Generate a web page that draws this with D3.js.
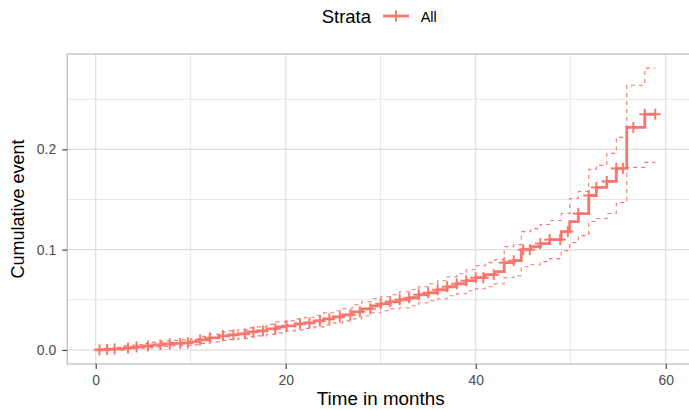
<!DOCTYPE html>
<html><head><meta charset="utf-8">
<script src="https://cdn.jsdelivr.net/npm/d3@7/dist/d3.min.js"></script>
<style>body{margin:0;background:#fff}svg{display:block}</style>
</head><body>
<svg id="c" width="689" height="410"></svg>
<script>
// ---- data ----
const times = [0,1,2,3,4,5,6,7,8,9,10,11,12,13,14,15,16,17,18,19,20,21,22,23,24,25,26,27,28,29,30,31,32,33,34,35,36,37,38,39,40,41,42,43,44,44.8,45.8,46.8,47.8,49.0,49.9,50.8,51.9,52.7,53.8,54.8,55.9,57.8];
const est = [0,0.0005,0.001,0.002,0.003,0.004,0.005,0.006,0.0065,0.007,0.008,0.010,0.012,0.014,0.015,0.016,0.018,0.019,0.021,0.023,0.024,0.026,0.027,0.029,0.031,0.033,0.035,0.038,0.041,0.044,0.046,0.048,0.050,0.052,0.055,0.057,0.060,0.063,0.066,0.069,0.072,0.075,0.078,0.087,0.089,0.100,0.103,0.106,0.110,0.118,0.128,0.136,0.154,0.162,0.168,0.181,0.222,0.235];
const upper = [0,0.0015,0.0025,0.004,0.005,0.0065,0.0075,0.009,0.0095,0.010,0.011,0.0135,0.0155,0.018,0.019,0.020,0.022,0.023,0.0255,0.028,0.029,0.031,0.0325,0.0345,0.037,0.039,0.041,0.045,0.048,0.051,0.053,0.055,0.058,0.060,0.063,0.066,0.069,0.073,0.076,0.080,0.084,0.087,0.090,0.103,0.105,0.118,0.121,0.125,0.129,0.136,0.151,0.158,0.180,0.184,0.196,0.212,0.264,0.281];
const lower = [0,0,0,0.001,0.0015,0.002,0.003,0.0035,0.004,0.0045,0.005,0.0065,0.008,0.0095,0.0105,0.0115,0.013,0.014,0.0155,0.017,0.019,0.020,0.0215,0.023,0.025,0.027,0.029,0.031,0.034,0.037,0.039,0.041,0.042,0.044,0.047,0.049,0.051,0.054,0.056,0.059,0.061,0.063,0.066,0.072,0.074,0.083,0.085,0.088,0.091,0.099,0.107,0.114,0.128,0.131,0.136,0.147,0.182,0.187];
const endTime = 58.9;
const censorTimes = [0.4,1.2,2.0,3.4,4.3,5.5,6.8,7.8,8.9,9.7,11,12,13.4,14.5,15.7,16.6,17.6,18.9,20.1,21.5,22.5,23.6,24.6,25.7,26.8,27.8,28.9,30,31,32,33,34,35,36,37,38,39,40,40.8,41.9,43.0,44.0,45.0,45.7,46.8,47.8,48.9,49.7,50.8,51.9,52.7,53.8,54.8,55.5,56.6,57.8,58.9];
const xTicks = [0,20,40,60];
const xMinor = [10,30,50];
const yTicks = [0,0.1,0.2];
const yMinor = [0.05,0.15,0.25];
const strataName = "All";

// ---- layout ----
const col = "#F8766D";
const font = "'Liberation Sans', Arial, sans-serif";
const L = 67.2, R = 694.2, T = 54, B = 364;
const svg = d3.select("#c");
const x = d3.scaleLinear().domain([-3, 63]).range([L, R]);
const y = d3.scaleLinear().domain([-0.01405, 0.2951]).range([B, T]);

// grid
const g = svg.append("g");
g.selectAll(".vmin").data(xMinor).join("line").attr("x1", d => x(d)).attr("x2", d => x(d)).attr("y1", T).attr("y2", B).attr("stroke", "#E6E6E6").attr("stroke-width", 1);
g.selectAll(".hmin").data(yMinor).join("line").attr("y1", d => y(d)).attr("y2", d => y(d)).attr("x1", L).attr("x2", R).attr("stroke", "#E6E6E6").attr("stroke-width", 1);
g.selectAll(".vmaj").data(xTicks).join("line").attr("x1", d => x(d)).attr("x2", d => x(d)).attr("y1", T).attr("y2", B).attr("stroke", "#DEDEDE").attr("stroke-width", 1.2);
g.selectAll(".hmaj").data(yTicks).join("line").attr("y1", d => y(d)).attr("y2", d => y(d)).attr("x1", L).attr("x2", R).attr("stroke", "#DEDEDE").attr("stroke-width", 1.2);

// data series
const pts = (arr) => { const p = times.map((t, i) => [t, arr[i]]); p.push([endTime, arr[arr.length - 1]]); return p; };
const line = d3.line().x(d => x(d[0])).y(d => y(d[1])).curve(d3.curveStepAfter);
svg.append("path").attr("d", line(pts(upper))).attr("fill", "none").attr("stroke", col).attr("stroke-width", 1.1).attr("stroke-dasharray", "4,4");
svg.append("path").attr("d", line(pts(lower))).attr("fill", "none").attr("stroke", col).attr("stroke-width", 1.1).attr("stroke-dasharray", "4,4");
svg.append("path").attr("d", line(pts(est))).attr("fill", "none").attr("stroke", col).attr("stroke-width", 2.8);

const stepVal = (t) => { let v = 0; for (let i = 0; i < times.length; i++) { if (times[i] <= t) v = est[i]; } return v; };
const cg = svg.append("g").attr("stroke", col).attr("stroke-width", 2);
censorTimes.forEach(t => {
  const cx = x(t), cy = y(stepVal(t));
  cg.append("line").attr("x1", cx - 5.5).attr("x2", cx + 5.5).attr("y1", cy).attr("y2", cy);
  cg.append("line").attr("x1", cx).attr("x2", cx).attr("y1", cy - 5.5).attr("y2", cy + 5.5);
});

// panel border
svg.append("rect").attr("x", L).attr("y", T).attr("width", R - L).attr("height", B - T).attr("fill", "none").attr("stroke", "#B3B3B3").attr("stroke-width", 1.1);

// axes
const xa = svg.append("g").attr("transform", `translate(0,${B})`).call(d3.axisBottom(x).tickValues(xTicks).tickSize(5).tickPadding(6).tickFormat(d3.format("d")));
const ya = svg.append("g").attr("transform", `translate(${L},0)`).call(d3.axisLeft(y).tickValues(yTicks).tickSize(5).tickPadding(6).tickFormat(d3.format(".1f")));
[xa, ya].forEach(a => {
  a.select(".domain").remove();
  a.selectAll(".tick line").attr("stroke", "#333333").attr("stroke-width", 1.1);
  a.selectAll(".tick text").attr("fill", "#4D4D4D").style("font-family", font).style("font-size", "14px");
});

// axis titles
svg.append("text").attr("x", (L + R) / 2).attr("y", 405).attr("text-anchor", "middle").style("font-family", font).style("font-size", "18.8px").attr("fill", "#000").text("Time in months");
svg.append("text").attr("transform", `translate(24,${(T + B) / 2}) rotate(-90)`).attr("text-anchor", "middle").style("font-family", font).style("font-size", "18px").attr("fill", "#000").text("Cumulative event");

// legend
svg.append("text").attr("x", 321.7).attr("y", 23).style("font-family", font).style("font-size", "18.5px").attr("fill", "#000").text("Strata");
const lg = svg.append("g").attr("stroke", col);
lg.append("line").attr("x1", 383).attr("x2", 409).attr("y1", 16).attr("y2", 16).attr("stroke-width", 2.8);
lg.append("line").attr("x1", 396).attr("x2", 396).attr("y1", 10.5).attr("y2", 21.5).attr("stroke-width", 2);
svg.append("text").attr("x", 420.7).attr("y", 22).style("font-family", font).style("font-size", "14.5px").attr("fill", "#000").text(strataName);
</script>
</body></html>
